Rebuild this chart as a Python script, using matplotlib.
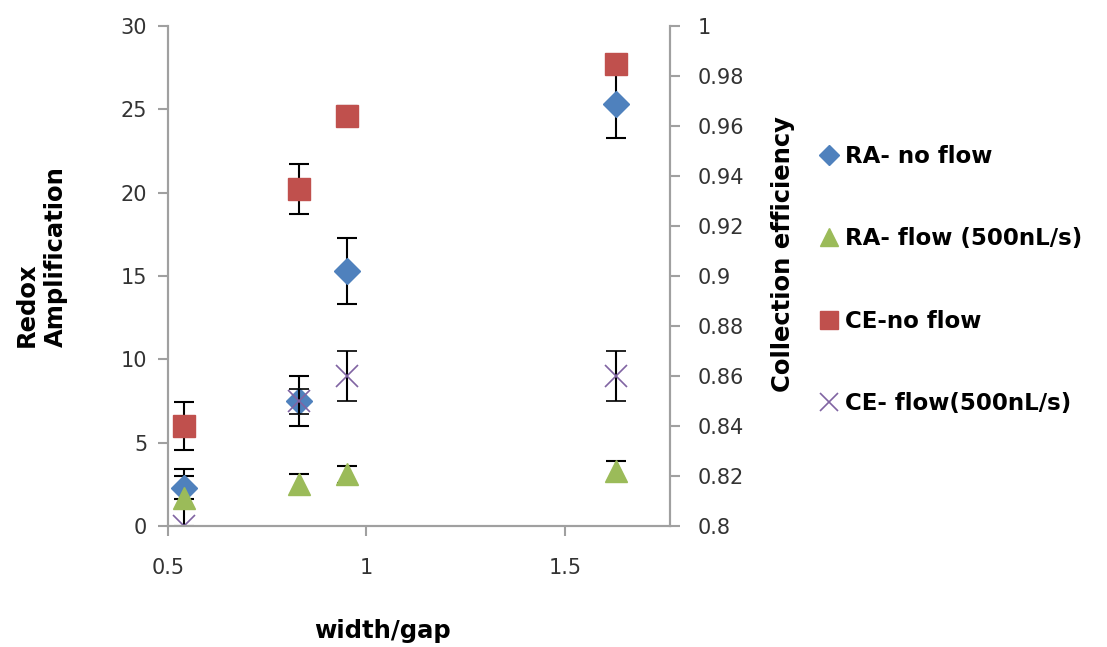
import matplotlib
matplotlib.use("Agg")
import matplotlib.pyplot as plt
from matplotlib.lines import Line2D

plt.rcParams['font.family'] = ['DejaVu Sans']

# width/gap of each device
x = [0.54, 0.83, 0.95, 1.63]

# redox amplification (left axis)
ra_noflow = [2.3, 7.5, 15.3, 25.3]
ra_noflow_err = [0.7, 1.5, 2.0, 2.0]
ra_flow = [1.7, 2.5, 3.1, 3.3]
ra_flow_err = [1.7, 0.6, 0.5, 0.6]

# collection efficiency (right axis)
ce_noflow = [0.840, 0.935, 0.964, 0.985]
ce_noflow_err = [0.0096, 0.010, 0.004, 0.002]
ce_flow = [0.800, 0.850, 0.860, 0.860]
ce_flow_err = [0.0, 0.005, 0.010, 0.010]

labels = ['RA- no flow', 'RA- flow (500nL/s)', 'CE-no flow', 'CE- flow(500nL/s)']
colors = ['#4F81BD', '#9BBB59', '#C0504D', '#8064A2']

fig = plt.figure(figsize=(11.07, 6.47), dpi=100)
ax = fig.add_axes([168/1107, 1-526/647, (670-168)/1107, 500/647])
ax2 = ax.twinx()

ebkw = dict(ecolor='black', elinewidth=1.5, capsize=7, capthick=1.5, linestyle='none')

ax.errorbar(x, ra_noflow, yerr=ra_noflow_err, marker='D', ms=13, color=colors[0], mec=colors[0], **ebkw)
ax.errorbar(x, ra_flow, yerr=ra_flow_err, marker='^', ms=16, color=colors[1], mec=colors[1], **ebkw)
ax2.errorbar(x, ce_noflow, yerr=ce_noflow_err, marker='s', ms=16, color=colors[2], mec=colors[2], **ebkw)
ax2.errorbar(x, ce_flow, yerr=ce_flow_err, marker='x', ms=16, mew=1.2, color=colors[3], **ebkw)

ax.set_xlim(0.5, 1.765)
ax.set_ylim(0, 30)
ax2.set_ylim(0.8, 1.0)
ax.set_xticks([0.5, 1, 1.5])
ax.set_xticklabels(['0.5', '1', '1.5'])
ax.set_yticks(range(0, 31, 5))
ax2.set_yticks([0.8 + 0.02 * i for i in range(11)])
ax2.set_yticklabels(['0.8', '0.82', '0.84', '0.86', '0.88', '0.9', '0.92', '0.94', '0.96', '0.98', '1'])

for a in (ax, ax2):
    for s in a.spines.values():
        s.set_color('#a0a0a0')
        s.set_linewidth(1.5)
    a.spines['top'].set_visible(False)
    a.tick_params(length=7, width=1.5, color='#a0a0a0', labelsize=15, labelcolor='#333333', pad=8)
ax.tick_params(axis='x', pad=16)
ax2.tick_params(axis='y', pad=13)

fig.text(41/1107, 1-347/647, 'Redox\nAmplification', fontsize=17.5, fontweight='bold',
         rotation=90, ha='center', va='bottom', multialignment='left', linespacing=1.25)
fig.text(783/1107, 1-254/647, 'Collection efficiency', fontsize=17.5, fontweight='bold',
         rotation=90, ha='center', va='center')
fig.text(383/1107, 1-631/647, 'width/gap', fontsize=17.5, fontweight='bold', ha='center', va='center')

handles = [
    Line2D([], [], marker='D', ms=10, color=colors[0], linestyle='none'),
    Line2D([], [], marker='^', ms=13, color=colors[1], linestyle='none'),
    Line2D([], [], marker='s', ms=13, color=colors[2], linestyle='none'),
    Line2D([], [], marker='x', ms=13, mew=1.2, color=colors[3], linestyle='none'),
]
fig.legend(handles, labels, loc='upper left', bbox_to_anchor=(799/1107, 1-124/647),
           frameon=False, prop={'size': 16.5, 'weight': 'bold'}, labelspacing=2.6,
           handlelength=0.8, handletextpad=0.3)

fig.savefig('out.png', dpi=100)
